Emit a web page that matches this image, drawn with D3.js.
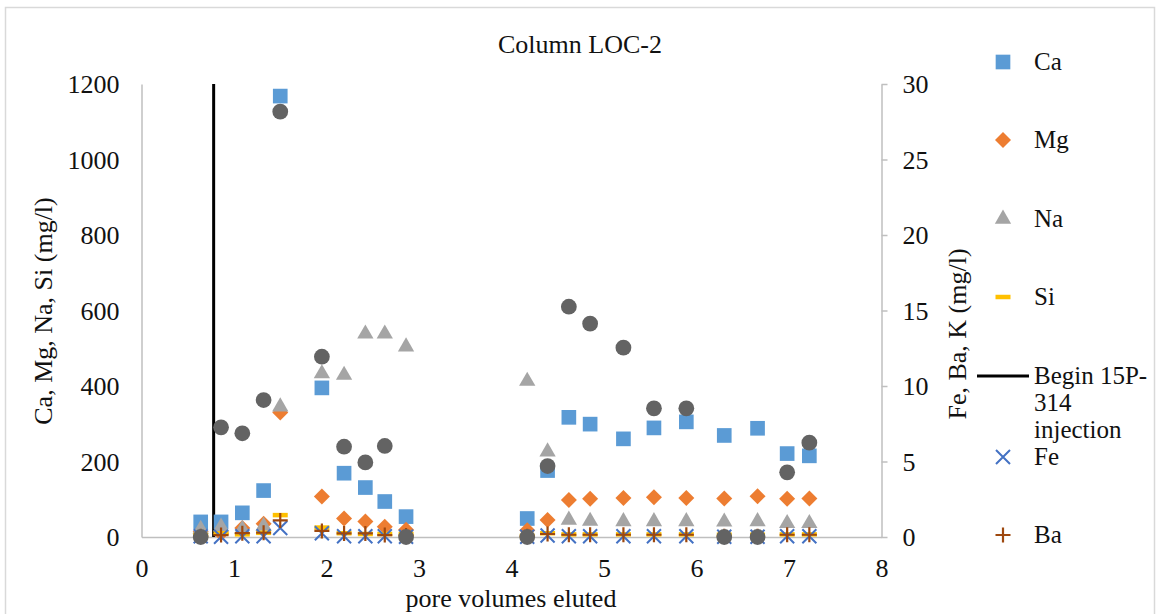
<!DOCTYPE html>
<html>
<body style="margin:0">
<script src="https://d3js.org/d3.v7.min.js"></script>
<script>
    // pore volumes eluted
    var pv = [0.64, 0.86, 1.09, 1.32, 1.50, 1.95, 2.19, 2.42, 2.63, 2.86,
              4.17, 4.39, 4.62, 4.85, 5.21, 5.54, 5.89, 6.30, 6.66, 6.98, 7.22];
    // left axis (mg/l)
    var ca = [40, 40, 64, 123, 1168, 395, 169, 131, 94, 54,
              49, 176, 317, 299, 260, 289, 305, 269, 288, 221, 215];
    var mg = [14, 10, 24, 35, 330, 107, 49, 41, 27, 19,
              18, 45, 98, 101, 103, 105, 103, 102, 108, 101, 102];
    var na = [21, 27, 21, 29, 345, 433, 429, 538, 538, 504,
              413, 226, 45, 42, 41, 41, 41, 40, 41, 36, 36];
    var si = [5, 10, 7, 11, 58, 25, 10, 8, 8, 8,
              3, 10, 7, 7, 7, 7, 7, 6, 6, 7, 7];
    // right axis (mg/l)
    var fe = [0.05, 0.02, 0.05, 0.05, 0.6, 0.25, 0.05, 0.05, 0.05, 0.02,
              0.02, 0.1, 0.05, 0.05, 0.05, 0.05, 0.05, 0.02, 0.02, 0.05, 0.05];
    var ba = [0.05, 0.13, 0.25, 0.28, 1.1, 0.4, 0.24, 0.24, 0.13, 0.1,
              0.05, 0.2, 0.15, 0.15, 0.15, 0.15, 0.15, 0.05, 0.05, 0.15, 0.15];
    var k = [0, 7.26, 6.87, 9.07, 28.17, 11.94, 5.98, 4.94, 6.03, 0,
             0, 4.7, 15.25, 14.13, 12.54, 8.52, 8.52, 0, 0, 4.28, 6.25];
    // injection start line
    var injX = [0.78, 0.78];
    var injY = [0, 1200];

    var xTicks = [0, 1, 2, 3, 4, 5, 6, 7, 8];
    var yTicks = [0, 200, 400, 600, 800, 1000, 1200];
    var y2Ticks = [0, 5, 10, 15, 20, 25, 30];

    var FONT = "'Times New Roman'";

    var svg = d3.select("body").append("svg")
        .attr("width", 1157)
        .attr("height", 614);

    // chart border
    svg.append("rect")
        .attr("x", 5.5).attr("y", 7.5)
        .attr("width", 1149).attr("height", 640)
        .attr("fill", "none")
        .attr("stroke", "#d9d9d9")
        .attr("stroke-width", 1.5);

    var xScale = d3.scaleLinear().domain([0, 8]).range([141.5, 881.5]);
    var yScale = d3.scaleLinear().domain([0, 1200]).range([537, 84]);
    var y2Scale = d3.scaleLinear().domain([0, 30]).range([537, 84]);

    var xAxis = svg.append("g")
        .attr("transform", "translate(0,537)")
        .call(d3.axisBottom(xScale).tickValues(xTicks).tickFormat(d3.format("d")).tickSize(0).tickPadding(0));
    xAxis.selectAll("text").attr("dy", null).attr("y", 40);

    var yAxis = svg.append("g")
        .attr("transform", "translate(141.5,0)")
        .call(d3.axisLeft(yScale).tickValues(yTicks).tickFormat(d3.format("d")).tickSize(0).tickPadding(22));
    yAxis.selectAll("text").attr("dy", "0.33em");

    var y2Axis = svg.append("g")
        .attr("transform", "translate(881.5,0)")
        .call(d3.axisRight(y2Scale).tickValues(y2Ticks).tickFormat(d3.format("d")).tickSizeInner(6).tickSizeOuter(0).tickPadding(15));
    y2Axis.selectAll("text").attr("dy", "0.33em");

    [xAxis, yAxis, y2Axis].forEach(function(a) {
        a.attr("font-family", null).attr("font-size", null);
        a.selectAll("path, line").attr("stroke", "#bfbfbf").attr("stroke-width", 1.5);
        a.selectAll("text").attr("font-size", 26);
    });

    // titles
    svg.append("text")
        .attr("x", 580).attr("y", 53)
        .attr("text-anchor", "middle")
        .attr("font-size", 26)
        .text("Column LOC-2");
    svg.append("text")
        .attr("x", 511).attr("y", 607)
        .attr("text-anchor", "middle")
        .attr("font-size", 26)
        .text("pore volumes eluted");
    svg.append("text")
        .attr("transform", "translate(52,311) rotate(-90)")
        .attr("text-anchor", "middle")
        .attr("font-size", 26)
        .text("Ca, Mg, Na, Si (mg/l)");
    svg.append("text")
        .attr("transform", "translate(966,334) rotate(-90)")
        .attr("text-anchor", "middle")
        .attr("font-size", 26)
        .text("Fe, Ba, K (mg/l)");

    // marker shapes
    function diamondPath(r) {
        var p = d3.path();
        p.moveTo(0, -r); p.lineTo(r, 0); p.lineTo(0, r); p.lineTo(-r, 0); p.closePath();
        return p.toString();
    }
    function timesPath(r) {
        var p = d3.path();
        p.moveTo(-r, -r); p.lineTo(r, r); p.moveTo(r, -r); p.lineTo(-r, r);
        return p.toString();
    }
    function plusPath(r) {
        var p = d3.path();
        p.moveTo(-r, 0); p.lineTo(r, 0); p.moveTo(0, -r); p.lineTo(0, r);
        return p.toString();
    }
    function dashPath(r) {
        var p = d3.path();
        p.moveTo(-r, 0); p.lineTo(r, 0);
        return p.toString();
    }

    var series = [
        {name: "Ca", vals: ca, axis: yScale, d: d3.symbol().type(d3.symbolSquare).size(215)(), fill: "#5b9bd5"},
        {name: "Mg", vals: mg, axis: yScale, d: diamondPath(8), fill: "#ed7d31"},
        {name: "Na", vals: na, axis: yScale, d: d3.symbol().type(d3.symbolTriangle).size(115)(), fill: "#a5a5a5"},
        {name: "Si", vals: si, axis: yScale, d: dashPath(7.5), stroke: "#ffc000", sw: 4.5},
        {name: "Fe", vals: fe, axis: y2Scale, d: timesPath(7), stroke: "#4472c4", sw: 2},
        {name: "Ba", vals: ba, axis: y2Scale, d: plusPath(7.5), stroke: "#9e480e", sw: 2.2},
        {name: "K", vals: k, axis: y2Scale, d: d3.symbol().type(d3.symbolCircle).size(195)(), fill: "#636363"}
    ];

    var plot = svg.append("g");

    // Begin 15P-314 injection
    plot.append("path")
        .datum(injX.map(function(x, i) { return [x, injY[i]]; }))
        .attr("fill", "none")
        .attr("stroke", "#000")
        .attr("stroke-width", 3)
        .attr("d", d3.line()
            .x(function(d) { return xScale(d[0]); })
            .y(function(d) { return yScale(d[1]); }));

    series.forEach(function(s) {
        plot.append("g")
            .selectAll("path")
            .data(s.vals)
            .enter()
            .append("path")
            .attr("transform", function(d, i) {
                return "translate(" + xScale(pv[i]) + "," + s.axis(d) + ")";
            })
            .attr("d", s.d)
            .attr("fill", s.fill || "none")
            .attr("stroke", s.stroke || "none")
            .attr("stroke-width", s.sw || 0);
    });

    // legend (right)
    var legendItems = [
        {label: ["Ca"], s: series[0]},
        {label: ["Mg"], s: series[1]},
        {label: ["Na"], s: series[2]},
        {label: ["Si"], s: series[3]},
        {label: ["Begin 15P-", "314", "injection"], line: true},
        {label: ["Fe"], s: series[4]},
        {label: ["Ba"], s: series[5]}
    ];
    var legendY = [62, 140, 219, 297, 376, 457, 535];

    var legend = svg.append("g")
        .selectAll("g")
        .data(legendItems)
        .enter()
        .append("g")
        .attr("transform", function(d, i) { return "translate(0," + legendY[i] + ")"; });

    legend.each(function(d) {
        var g = d3.select(this);
        if (d.line) {
            g.append("line")
                .attr("x1", 977).attr("x2", 1029)
                .attr("stroke", "#000").attr("stroke-width", 3);
        } else {
            g.append("path")
                .attr("transform", "translate(1003,0)")
                .attr("d", d.s.d)
                .attr("fill", d.s.fill || "none")
                .attr("stroke", d.s.stroke || "none")
                .attr("stroke-width", d.s.sw || 0);
        }
        d.label.forEach(function(t, j) {
            g.append("text")
                .attr("x", 1034)
                .attr("y", j * 27)
                .attr("dy", "0.33em")
                .attr("font-size", 25)
                .text(t);
        });
    });

    // serif text throughout
    svg.selectAll("text")
        .style("font-family", FONT)
        .attr("fill", "#111");
</script>
</body>
</html>
